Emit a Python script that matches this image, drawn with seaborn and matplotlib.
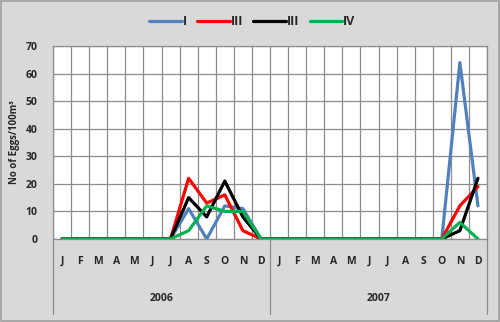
import matplotlib
matplotlib.use("Agg")
import matplotlib.pyplot as plt
import seaborn as sns
import pandas as pd
import numpy as np
from matplotlib.patches import Rectangle
from matplotlib.lines import Line2D

months = ["J", "F", "M", "A", "M", "J", "J", "A", "S", "O", "N", "D"]
years = ["2006", "2007"]
series_names = ["I", "III", "III", "IV"]
series_colors = ["#4f81bd", "#ff0000", "#000000", "#00b050"]

s_I   = [0, 0, 0, 0, 0, 0, 0, 11, 0, 12, 11, 0,   0, 0, 0, 0, 0, 0, 0, 0, 0, 0, 64, 12]
s_III = [0, 0, 0, 0, 0, 0, 0, 22, 13, 16, 3, 0,   0, 0, 0, 0, 0, 0, 0, 0, 0, 0, 12, 19]
s_III2 = [0, 0, 0, 0, 0, 0, 0, 15, 8, 21, 8, 0,   0, 0, 0, 0, 0, 0, 0, 0, 0, 0, 3, 22]
s_IV  = [0, 0, 0, 0, 0, 0, 0, 3, 12, 10, 10, 0,   0, 0, 0, 0, 0, 0, 0, 0, 0, 0, 6, 0]
all_series = [s_I, s_III, s_III2, s_IV]

sns.set_theme(style="white")
plt.rcParams["font.family"] = ["Open Sans", "DejaVu Sans"]

bg = "#d9d9d9"
fig = plt.figure(figsize=(5, 3.22), dpi=100, facecolor=bg)
ax = fig.add_axes([0.106, 0.258, 0.868, 0.599])
ax.set_facecolor("white")

n = len(months) * len(years)
idx = np.arange(n)
frames = []
for k, vals in enumerate(all_series):
    frames.append(pd.DataFrame({"x": idx, "y": vals, "key": f"s{k}"}))
df = pd.concat(frames, ignore_index=True)

sns.lineplot(data=df, x="x", y="y", hue="key",
             palette=dict(zip([f"s{k}" for k in range(4)], series_colors)),
             linewidth=2.3, ax=ax, legend=False, sort=False)

ax.set_xlim(-0.5, n - 0.5)
ax.set_ylim(0, 70)
ax.set_yticks(range(0, 71, 10))
ax.set_yticklabels([str(v) for v in range(0, 71, 10)], fontsize=7.5, fontweight="bold")
ax.set_xticks(idx)
ax.set_xticklabels(months * len(years), fontsize=7.5, fontweight="bold")
ax.set_xticks(np.arange(-0.5, n, 1), minor=True)
ax.tick_params(axis="x", which="both", length=0, pad=12)
ax.tick_params(axis="y", length=0, pad=11)
ax.grid(False)
ax.xaxis.grid(True, which="minor", color="#8c8c8c", linewidth=0.9)
ax.yaxis.grid(True, which="major", color="#8c8c8c", linewidth=0.9)
ax.set_axisbelow(True)
for sp in ax.spines.values():
    sp.set_color("#8c8c8c")
    sp.set_linewidth(0.9)
ax.set_xlabel("")
ax.set_ylabel("No of Eggs/100m³", fontsize=7, fontweight="bold")
ax.yaxis.set_label_coords(-0.077, 0.5)

# group separators and year labels
trans = ax.get_xaxis_transform()
for b in [-0.5, 11.5, n - 0.5]:
    ax.add_line(Line2D([b, b], [0, -0.39], transform=trans, color="#8c8c8c",
                       linewidth=0.9, clip_on=False))
for j, yr in enumerate(years):
    ax.text(j * 12 + 5.5, -0.31, yr, transform=trans, ha="center", va="center",
            fontsize=7.5, fontweight="bold")

handles = [Line2D([0], [0], color=c, linewidth=2.3) for c in series_colors]
fig.legend(handles, series_names, loc="center", bbox_to_anchor=(0.505, 0.932),
           ncol=4, frameon=False, prop={"weight": "bold", "size": 9},
           handlelength=2.6, handletextpad=0.1, columnspacing=0.8)

fig.add_artist(Rectangle((0.002, 0.003), 0.996, 0.994, transform=fig.transFigure,
                         fill=False, edgecolor="#a0a0a0", linewidth=1.2))

fig.savefig("out.png", dpi=100, facecolor=bg)
